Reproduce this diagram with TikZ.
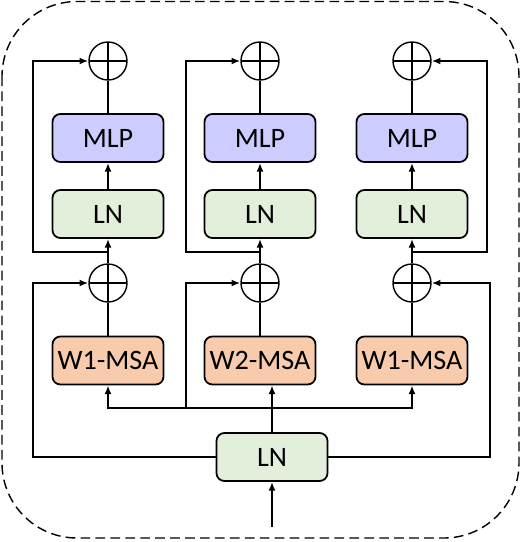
\documentclass[tikz,border=0pt]{standalone}
\usepackage{fontspec}
\setmainfont{Carlito}
\usetikzlibrary{arrows.meta}
\definecolor{mlpfill}{HTML}{CCCCFF}
\definecolor{lnfill}{HTML}{E2EFDA}
\definecolor{msafill}{HTML}{F8CBAD}

\begin{document}
\begin{tikzpicture}[line width=1pt,>={Latex[length=5pt,width=4pt]},
  blk/.style={draw,rounded corners=4.5pt,line width=1pt,minimum width=2.22cm,
    minimum height=0.96cm,inner sep=0pt,font=\fontsize{16}{18}\selectfont},
  addc/.style={draw,circle,line width=0.8pt,minimum size=0.76cm,inner sep=0pt,
    path picture={\draw[line width=0.6pt] (path picture bounding box.north) -- (path picture bounding box.south)
      (path picture bounding box.west) -- (path picture bounding box.east);}}]
\useasboundingbox (0,0) rectangle (10.44,-10.84);
\draw[line width=0.8pt,dash pattern=on 5.5pt off 3pt,rounded corners=1.5cm] (0.04,-0.03) rectangle (10.38,-10.76);

\node[addc] (t1) at (2.16,-1.22) {};
\node[addc] (t2) at (5.2,-1.22) {};
\node[addc] (t3) at (8.24,-1.22) {};
\node[blk,fill=mlpfill] (mlp1) at (2.16,-2.76) {MLP};
\node[blk,fill=mlpfill] (mlp2) at (5.2,-2.76) {MLP};
\node[blk,fill=mlpfill] (mlp3) at (8.24,-2.76) {MLP};
\node[blk,fill=lnfill] (ln1) at (2.16,-4.28) {LN};
\node[blk,fill=lnfill] (ln2) at (5.2,-4.28) {LN};
\node[blk,fill=lnfill] (ln3) at (8.24,-4.28) {LN};
\node[addc] (a1) at (2.16,-5.66) {};
\node[addc] (a2) at (5.2,-5.66) {};
\node[addc] (a3) at (8.24,-5.66) {};
\node[blk,fill=msafill] (msa1) at (2.16,-7.21) {W1-MSA};
\node[blk,fill=msafill] (msa2) at (5.2,-7.21) {W2-MSA};
\node[blk,fill=msafill] (msa3) at (8.24,-7.21) {W1-MSA};
\node[blk,fill=lnfill] (ln0) at (5.44,-9.14) {LN};

\coordinate (in) at (5.44,-10.54);
\coordinate (d) at (5.44,-8.16);
\coordinate (b1) at (0.66,-9.14);
\coordinate (b2) at (3.72,-8.16);
\coordinate (b3) at (9.8,-9.14);
\coordinate (s1) at (2.16,-5.04);
\coordinate (s2) at (5.2,-5.04);
\coordinate (s3) at (8.24,-5.04);
\coordinate (c1) at (0.66,-5.04);
\coordinate (c2) at (3.72,-5.04);
\coordinate (c3) at (9.74,-5.04);

% input and first LN
\draw[->] (in) -- (ln0);
\draw[->] (ln0) -- (ln0 |- msa2.south);
\draw[->] (d) -| (msa1.south);
\draw[->] (d) -| (msa3.south);
\draw[->] (b2) |- (a2.west);
\draw[->] (ln0.west) -- (b1) |- (a1.west);
\draw[->] (ln0.east) -- (b3) |- (a3.east);

% attention outputs
\draw (msa1) -- (a1);
\draw (msa2) -- (a2);
\draw (msa3) -- (a3);
\draw[->] (a1) -- (ln1);
\draw[->] (a2) -- (ln2);
\draw[->] (a3) -- (ln3);
\draw[->] (ln1) -- (mlp1);
\draw[->] (ln2) -- (mlp2);
\draw[->] (ln3) -- (mlp3);
\draw (mlp1) -- (t1);
\draw (mlp2) -- (t2);
\draw (mlp3) -- (t3);

% second residuals
\draw[->] (s1) -- (c1) |- (t1.west);
\draw[->] (s2) -- (c2) |- (t2.west);
\draw[->] (s3) -- (c3) |- (t3.east);
\end{tikzpicture}
\end{document}
